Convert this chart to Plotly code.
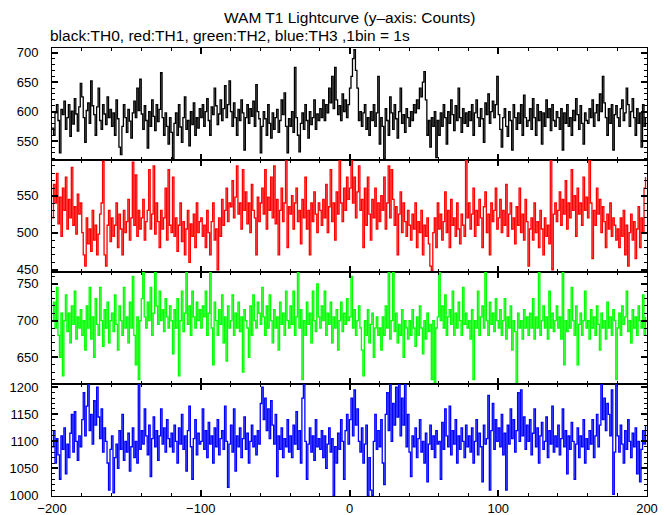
import plotly.graph_objects as go

time_s = list(range(-200, 200))

th0_counts = [
    572, 560, 598, 612, 585, 530, 604, 595, 618, 570, 590, 612, 558, 601, 579, 622, 596, 567, 608, 648,
    625, 590, 548, 602, 615, 580, 652, 610, 595, 560, 608, 640, 585, 570, 612, 596, 578, 625, 590, 604,
    575, 598, 560, 620, 588, 540, 527, 575, 612, 590, 565, 604, 584, 555, 598, 618, 590, 640, 602, 655,
    596, 570, 610, 585, 538, 600, 575, 620, 592, 568, 612, 583, 604, 666, 590, 560, 598, 575, 545, 590,
    565, 520, 580, 598, 560, 612, 574, 548, 590, 625, 570, 585, 542, 600, 578, 615, 560, 590, 572, 605,
    590, 612, 575, 600, 622, 585, 560, 608, 595, 640, 610, 578, 596, 620, 585, 605, 644, 590, 612, 652,
    600, 575, 615, 590, 560, 604, 585, 620, 598, 535, 590, 612, 580, 605, 592, 618, 575, 646, 600, 588,
    530, 575, 600, 588, 560, 612, 580, 555, 598, 570, 590, 604, 565, 585, 620, 595, 632, 575, 530, 588,
    575, 600, 565, 675, 590, 560, 532, 580, 598, 570, 612, 585, 555, 600, 578, 590, 620, 570, 596, 585,
    605, 590, 620, 585, 612, 598, 640, 615, 660, 605, 675, 620, 595, 610, 585, 630, 600, 620, 590, 612,
    640, 660, 690, 705, 670, 640, 585, 600, 575, 598, 612, 570, 590, 560, 600, 585, 612, 575, 598, 660,
    545, 590, 575, 520, 605, 585, 560, 625, 598, 570, 612, 588, 555, 600, 640, 580, 595, 565, 605, 590,
    575, 600, 585, 612, 598, 620, 605, 640, 625, 650, 668, 620, 560, 585, 540, 590, 575, 600, 522, 585,
    560, 598, 575, 612, 590, 545, 600, 580, 620, 595, 568, 610, 585, 640, 590, 565, 605, 580, 598, 575,
    600, 585, 612, 560, 598, 620, 590, 575, 605, 588, 548, 615, 595, 630, 580, 600, 618, 590, 612, 660,
    595, 570, 540, 590, 605, 575, 558, 600, 585, 535, 612, 590, 570, 598, 580, 612, 560, 628, 590, 575,
    585, 605, 570, 622, 590, 560, 612, 585, 600, 545, 598, 575, 620, 590, 605, 568, 612, 585, 575, 600,
    590, 570, 605, 535, 598, 580, 612, 575, 590, 560, 602, 585, 622, 595, 570, 610, 580, 545, 598, 585,
    580, 605, 590, 620, 575, 598, 612, 585, 630, 600, 660, 615, 590, 560, 605, 580, 612, 535, 595, 610,
    590, 575, 605, 620, 585, 598, 640, 612, 575, 600, 622, 590, 560, 605, 580, 598, 540, 612, 575, 590,
]

th1_counts = [
    520, 565, 540, 580, 512, 548, 495, 560, 530, 575, 505, 545, 520, 588, 510, 535, 498, 552, 525, 540,
    500, 470, 455, 520, 485, 505, 475, 530, 490, 510, 470, 498, 525, 540, 596, 470, 455, 510, 530, 488,
    520, 495, 510, 540, 480, 525, 505, 470, 530, 500, 515, 545, 490, 520, 595, 510, 578, 495, 530, 505,
    520, 545, 490, 515, 530, 585, 505, 525, 590, 498, 540, 515, 480, 530, 505, 520, 560, 490, 585, 510,
    500, 575, 495, 520, 475, 510, 540, 488, 515, 470, 505, 530, 460, 512, 495, 525, 480, 540, 500, 515,
    520, 495, 510, 480, 530, 500, 470, 515, 540, 490, 505, 450, 520, 495, 545, 510, 530, 560, 515, 540,
    535, 570, 520, 548, 590, 525, 540, 505, 585, 530, 555, 512, 540, 500, 565, 530, 520, 470, 548, 515,
    540, 560, 525, 585, 505, 548, 530, 575, 520, 590, 512, 545, 470, 530, 560, 515, 540, 600, 480, 535,
    525, 550, 505, 540, 560, 515, 530, 485, 545, 520, 575, 505, 530, 470, 540, 515, 555, 525, 500, 540,
    530, 510, 545, 520, 565, 500, 535, 585, 515, 540, 490, 555, 525, 600, 540, 515, 560, 530, 575, 545,
    560, 598, 540, 575, 520, 555, 590, 530, 545, 480, 560, 510, 575, 525, 490, 545, 520, 560, 505, 540,
    515, 550, 530, 575, 505, 540, 590, 520, 585, 545, 510, 535, 470, 525, 555, 500, 540, 515, 495, 530,
    510, 490, 525, 505, 540, 480, 515, 500, 530, 470, 510, 495, 520, 485, 455, 448, 500, 520, 480, 540,
    505, 525, 490, 515, 555, 500, 530, 480, 545, 510, 520, 495, 540, 505, 485, 525, 510, 495, 598, 520,
    540, 505, 525, 560, 495, 530, 510, 545, 520, 480, 535, 555, 500, 525, 470, 540, 515, 530, 560, 505,
    520, 545, 500, 530, 510, 565, 495, 525, 540, 505, 520, 485, 535, 510, 560, 500, 525, 490, 545, 515,
    455, 505, 520, 490, 540, 500, 515, 480, 530, 505, 470, 520, 495, 510, 485, 600, 450, 525, 540, 515,
    530, 555, 510, 545, 525, 570, 505, 540, 520, 585, 530, 550, 495, 560, 525, 540, 510, 575, 530, 548,
    520, 598, 540, 465, 530, 510, 560, 525, 545, 500, 535, 515, 480, 525, 505, 540, 495, 520, 510, 490,
    505, 480, 520, 495, 530, 470, 510, 455, 500, 525, 490, 515, 465, 505, 535, 480, 520, 500, 560, 575,
]

th2_counts = [
    700, 725, 690, 745, 680, 650, 710, 625, 700, 735, 685, 710, 670, 720, 695, 740, 675, 705, 690, 715,
    680, 700, 660, 720, 690, 745, 675, 705, 650, 730, 695, 680, 745, 700, 665, 715, 690, 725, 670, 700,
    710, 685, 735, 695, 660, 720, 700, 680, 745, 690, 705, 670, 725, 690, 760, 680, 640, 705, 620, 700,
    730, 765, 705, 690, 725, 700, 745, 680, 710, 765, 720, 695, 740, 700, 715, 685, 730, 705, 690, 720,
    700, 655, 715, 690, 730, 625, 700, 740, 685, 710, 765, 695, 720, 680, 740, 705, 690, 725, 700, 715,
    690, 720, 705, 740, 680, 710, 765, 690, 640, 725, 700, 680, 715, 695, 735, 670, 705, 645, 720, 690,
    700, 735, 680, 710, 690, 725, 685, 705, 630, 715, 700, 690, 650, 720, 680, 735, 700, 690, 725, 710,
    695, 745, 705, 680, 720, 690, 735, 700, 670, 715, 690, 705, 660, 725, 695, 710, 680, 740, 700, 690,
    720, 695, 740, 680, 705, 765, 690, 715, 620, 700, 680, 725, 695, 710, 670, 740, 700, 685, 750, 705,
    690, 720, 700, 740, 680, 710, 695, 725, 670, 705, 690, 715, 660, 700, 725, 685, 710, 695, 730, 700,
    705, 760, 690, 715, 680, 700, 720, 690, 660, 625, 700, 680, 715, 670, 695, 710, 650, 690, 705, 680,
    690, 660, 705, 680, 720, 690, 765, 675, 700, 765, 685, 710, 670, 695, 680, 715, 650, 700, 690, 675,
    700, 680, 715, 690, 665, 705, 680, 720, 690, 655, 700, 675, 710, 685, 695, 620, 700, 615, 690, 705,
    765, 700, 720, 690, 735, 680, 705, 715, 695, 740, 680, 710, 690, 725, 700, 680, 745, 695, 710, 690,
    700, 675, 715, 620, 700, 690, 740, 680, 705, 720, 690, 765, 700, 680, 725, 695, 710, 685, 730, 700,
    690, 715, 680, 700, 730, 675, 705, 690, 720, 660, 700, 685, 615, 710, 690, 700, 675, 715, 690, 705,
    680, 710, 690, 730, 675, 705, 690, 765, 680, 700, 720, 690, 705, 675, 740, 690, 710, 685, 700, 720,
    690, 705, 675, 765, 640, 700, 685, 715, 690, 745, 700, 680, 720, 640, 695, 710, 680, 700, 740, 690,
    700, 675, 715, 690, 705, 680, 720, 695, 660, 710, 690, 700, 675, 725, 690, 705, 680, 715, 700, 620,
    690, 710, 680, 720, 695, 705, 740, 685, 700, 670, 715, 690, 705, 680, 720, 700, 690, 735, 680, 705,
]

th3_counts = [
    1090, 1120, 1060, 1105, 1075, 1030, 1110, 1085, 1125, 1040, 1095, 1070, 1115, 1150, 1080, 1155, 1100, 1065, 1110, 1090,
    1140, 1190, 1110, 1165, 1205, 1120, 1150, 1095, 1175, 1130, 1200, 1145, 1105, 1160, 1080, 1125, 1100, 1060, 1010, 1085,
    1110, 1005, 1070, 1095, 1050, 1120, 1085, 1150, 1065, 1100, 1080, 1115, 1045, 1090, 1125, 1070, 1100, 1060, 1206, 1085,
    1120, 1095, 1160, 1110, 1075, 1130, 1035, 1105, 1145, 1090, 1120, 1065, 1110, 1160, 1095, 1125, 1080, 1140, 1105, 1090,
    1115, 1080, 1130, 1100, 1060, 1125, 1095, 1150, 1085, 1110, 1045, 1120, 1165, 1090, 1030, 1105, 1140, 1075, 1115, 1095,
    1100, 1160, 1085, 1120, 1070, 1135, 1095, 1110, 1060, 1125, 1090, 1140, 1075, 1105, 1120, 1085, 1165, 1100, 1015, 1095,
    1130, 1080, 1160, 1045, 1110, 1090, 1125, 1070, 1105, 1145, 1085, 1115, 1060, 1100, 1130, 1090, 1110, 1075, 1120, 1095,
    1170, 1200, 1140, 1180, 1120, 1160, 1105, 1175, 1130, 1095, 1150, 1035, 1110, 1085, 1125, 1070, 1105, 1090, 1140, 1080,
    1110, 1070, 1130, 1095, 1155, 1085, 1120, 1060, 1180, 1205, 1100, 1030, 1095, 1125, 1080, 1110, 1065, 1140, 1090, 1105,
    1085, 1120, 1070, 1110, 1050, 1095, 1125, 1080, 1105, 1000, 1090, 1060, 1115, 1085, 1140, 1100, 1030, 1120, 1150, 1095,
    1140, 1180, 1110, 1195, 1130, 1160, 1100, 1080, 1125, 1060, 1095, 1130, 1000, 1070, 1010, 1000, 1100, 1150, 1085, 1120,
    1090, 1140, 1060, 1020, 1150, 1190, 1120, 1205, 1100, 1170, 1130, 1200, 1145, 1206, 1110, 1180, 1130, 1206, 1090, 1150,
    1080, 1035, 1110, 1090, 1125, 1070, 1105, 1140, 1080, 1100, 1060, 1115, 1025, 1095, 1130, 1085, 1110, 1070, 1120, 1095,
    1100, 1030, 1135, 1085, 1160, 1110, 1090, 1165, 1075, 1120, 1095, 1140, 1060, 1110, 1085, 1125, 1100, 1070, 1130, 1090,
    1110, 1080, 1125, 1060, 1100, 1140, 1075, 1115, 1090, 1025, 1130, 1095, 1105, 1185, 1010, 1120, 1170, 1085, 1140, 1100,
    1125, 1090, 1150, 1075, 1115, 1010, 1130, 1095, 1160, 1105, 1140, 1080, 1120, 1190, 1100, 1195, 1110, 1145, 1085, 1130,
    1100, 1140, 1075, 1115, 1160, 1090, 1125, 1060, 1110, 1135, 1085, 1100, 1145, 1070, 1120, 1095, 1165, 1080, 1110, 1090,
    1130, 1075, 1105, 1160, 1090, 1120, 1040, 1110, 1085, 1135, 1100, 1030, 1095, 1125, 1070, 1110, 1090, 1140, 1060, 1105,
    1085, 1120, 1095, 1140, 1070, 1110, 1150, 1090, 1130, 1206, 1140, 1180, 1120, 1170, 1150, 1110, 1195, 1002, 1080, 1206,
    1110, 1080, 1130, 1095, 1060, 1120, 1085, 1140, 1100, 1070, 1115, 1090, 1125, 1040, 1100, 1025, 1085, 1120, 1095, 1130,
]

series = [
    ("TH0", th0_counts, "#000000", [518, 708]),
    ("TH1", th1_counts, "#ff0000", [447, 598]),
    ("TH2", th2_counts, "#00ff00", [614, 766]),
    ("TH3", th3_counts, "#0000ff", [999, 1206]),
]

FONT = "Liberation Sans, Arial, Helvetica, sans-serif"
fig = go.Figure()
n = len(series)
layout_axes = {}
for i, (name, vals, col, yr) in enumerate(series):
    k = i + 1
    xa = "x" if k == 1 else f"x{k}"
    ya = "y" if k == 1 else f"y{k}"
    fig.add_trace(go.Scatter(x=time_s, y=vals, mode="lines", line=dict(color=col, width=1.3, shape="hv"),
                             xaxis=xa, yaxis=ya, name=name, showlegend=False, hoverinfo="skip"))
    top = 1 - i / n
    bot = 1 - (i + 1) / n
    axis_common = dict(showline=True, linecolor="black", linewidth=1, mirror="allticks",
                       ticks="inside", tickcolor="black", showgrid=False, zeroline=False,
                       automargin=False, tickfont=dict(family=FONT, size=13, color="black"))
    layout_axes["xaxis" if k == 1 else f"xaxis{k}"] = dict(
        axis_common, domain=[0, 1], anchor=ya, range=[-200, 200], dtick=100, tick0=-200,
        ticklen=6, tickwidth=2, showticklabels=(k == n), ticklabelstandoff=0,
        minor=dict(dtick=20, ticklen=3, ticks="inside", tickcolor="black", tickwidth=1),
        **({} if k == 1 else dict(matches="x")))
    layout_axes["yaxis" if k == 1 else f"yaxis{k}"] = dict(
        axis_common, domain=[bot, top], anchor=xa, range=yr, dtick=50, tick0=0,
        ticklen=6, tickwidth=2, ticklabelstandoff=10,
        minor=dict(dtick=10, ticklen=3, ticks="inside", tickcolor="black", tickwidth=1))

fig.update_layout(**layout_axes)
fig.update_layout(
    width=661, height=507, template=None,
    paper_bgcolor="white", plot_bgcolor="white",
    margin=dict(l=44, r=22, t=40, b=19, autoexpand=False),
    font=dict(family=FONT, size=13, color="black"),
    annotations=[
        dict(text="WAM T1 Lightcurve (y\u2013axis: Counts)", xref="paper", yref="paper",
             x=0.5, y=1.069, xanchor="center", yanchor="middle", showarrow=False,
             font=dict(family=FONT, size=15.5, color="black")),
        dict(text="black:TH0, red:TH1, green:TH2, blue:TH3 ,1bin = 1s", xref="paper", yref="paper",
             x=-0.007, y=1.029, xanchor="left", yanchor="middle", showarrow=False,
             font=dict(family=FONT, size=15.5, color="black")),
    ],
)

fig.write_html("out.html")
